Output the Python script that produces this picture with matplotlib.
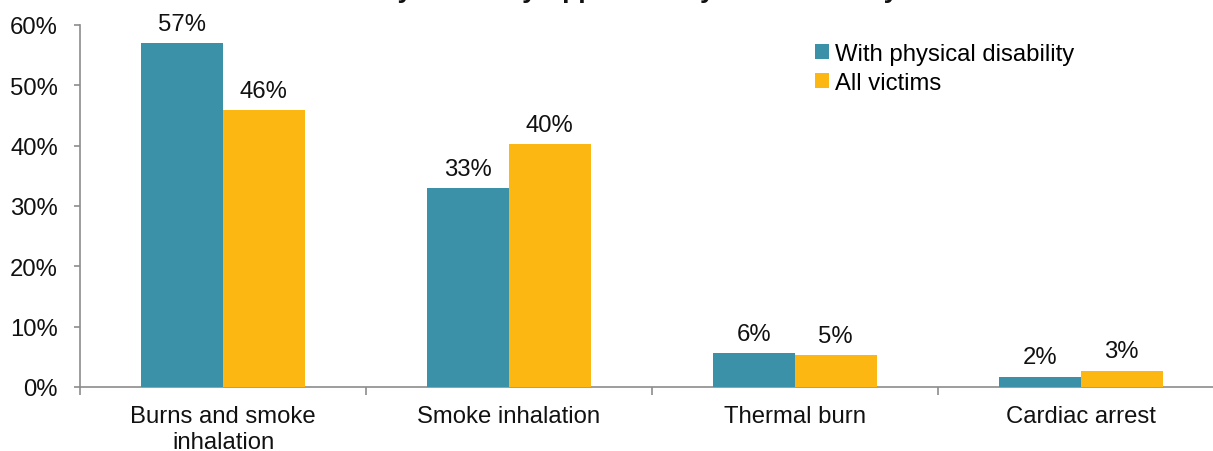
import matplotlib
matplotlib.use("Agg")
import matplotlib.pyplot as plt
import numpy as np
from matplotlib.patches import Patch

plt.rcParams['font.family'] = ['Liberation Sans', 'DejaVu Sans']

categories = ["Burns and smoke\ninhalation", "Smoke inhalation", "Thermal burn", "Cardiac arrest"]
series_names = ["With physical disability", "All victims"]
disability = [57.0, 33.0, 5.6, 1.7]
all_victims = [45.9, 40.3, 5.3, 2.7]
yticks = [0, 10, 20, 30, 40, 50, 60]
title_text = "Primary Cause by Apparent Physical Disability"

teal = "#3A91A8"
orange = "#FDB713"
spine_col = "#8c8c8c"
fs = 17.2

W, H = 1213, 452
fig = plt.figure(figsize=(W / 100, H / 100), dpi=100)
ax = fig.add_axes([80 / W, 1 - 388 / H, 1144 / W, (388 - 26) / H])

x = np.arange(len(categories))
bw = 0.285
b1 = ax.bar(x - bw / 2, disability, bw, color=teal, label=series_names[0], zorder=3)
b2 = ax.bar(x + bw / 2, all_victims, bw, color=orange, label=series_names[1], zorder=3)

for bars, vals in ((b1, disability), (b2, all_victims)):
    for rect, v in zip(bars, vals):
        ax.annotate(f"{round(v):d}%", (rect.get_x() + rect.get_width() / 2, v),
                    xytext=(0, 6), textcoords="offset points",
                    ha="center", va="bottom", fontsize=fs, color="#111111")

ax.set_xlim(-0.5, len(categories) - 0.5)
ax.set_ylim(0, 60)
ax.set_yticks(yticks)
ax.set_yticklabels([f"{t}%" for t in yticks])

ax.set_xticks(np.arange(-0.5, len(categories) + 0.5, 1.0))
ax.set_xticklabels([])
ax.set_xticks(x, minor=True)
ax.set_xticklabels(categories, minor=True, linespacing=1.25)
ax.tick_params(axis="x", which="major", length=6, width=1.2, color=spine_col, direction="out")
ax.tick_params(axis="x", which="minor", length=0, pad=13, labelsize=fs, labelcolor="#111111")
ax.tick_params(axis="y", length=4, width=1.2, color=spine_col, direction="out", pad=12,
               labelsize=fs, labelcolor="#111111")

for s in ("top", "right"):
    ax.spines[s].set_visible(False)
for s in ("left", "bottom"):
    ax.spines[s].set_color(spine_col)
    ax.spines[s].set_linewidth(1.2)

handles = [Patch(facecolor=teal), Patch(facecolor=orange)]
leg = fig.legend(handles, series_names, loc="upper left", bbox_to_anchor=(815 / W, 1 - 44 / H),
                 frameon=False, fontsize=fs, handlelength=0.6, handleheight=0.6,
                 handletextpad=0.25, labelspacing=0.3, borderaxespad=0, borderpad=0)

fig.text(0.5, 1 + 2.5 / H, title_text, ha="center", va="baseline",
         fontsize=19, fontweight="bold", color="#111111")

fig.savefig("out.png", dpi=100)
